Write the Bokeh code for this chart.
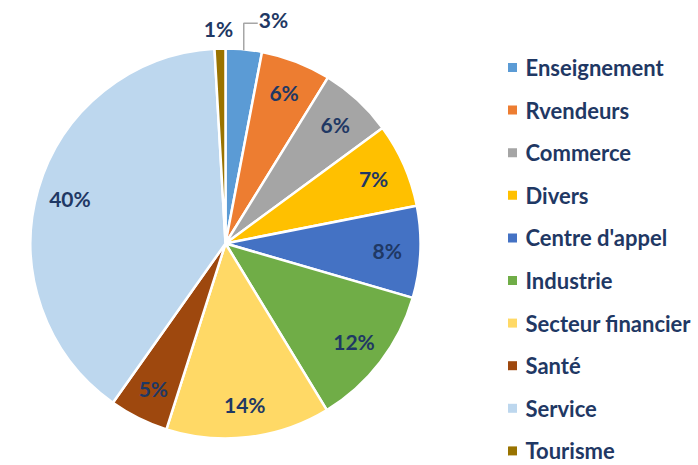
import math
from bokeh.plotting import figure
from bokeh.models import Range1d, ColumnDataSource
from bokeh.core.properties import value
from bokeh.embed import file_html
from bokeh.resources import INLINE

categories = ["Enseignement", "Rvendeurs", "Commerce", "Divers", "Centre d'appel",
              "Industrie", "Secteur financier", "Santé", "Service", "Tourisme"]
shares = [3.0, 5.8, 6.1, 7.0, 7.6, 11.8, 13.6, 4.9, 39.3, 0.9]
pct_labels = ["3%", "6%", "6%", "7%", "8%", "12%", "14%", "5%", "40%", "1%"]
colors = ["#5B9BD5", "#ED7D31", "#A5A5A5", "#FFC000", "#4472C4",
          "#70AD47", "#FFD966", "#9E480E", "#BDD7EE", "#997300"]

W, H = 698, 465
TXT = "#1F3864"
FONT = "Lato"

p = figure(width=W, height=H, x_range=Range1d(0, W), y_range=Range1d(0, H),
           output_backend="svg", toolbar_location=None, min_border=0)
p.axis.visible = False
p.grid.visible = False
p.outline_line_color = None

cx, cy, R = 225, 222, 195
total = sum(shares)
starts, ends, mids = [], [], []
cum = 0.0
for s in shares:
    a0 = math.pi / 2 - 2 * math.pi * cum / total
    cum += s
    a1 = math.pi / 2 - 2 * math.pi * cum / total
    starts.append(a0)
    ends.append(a1)
    mids.append((a0 + a1) / 2)

src = ColumnDataSource(dict(start=starts, end=ends, color=colors))
p.wedge(x=cx, y=cy, radius=R, start_angle="start", end_angle="end",
        direction="clock", fill_color="color", line_color="white",
        line_width=2.5, source=src)

# data labels
lx, ly = [], []
outside = {0: (48, 224), 9: (-7, 215)}  # (dx, dy) from centre for small slices
for i, m in enumerate(mids):
    if i in outside:
        dx, dy = outside[i]
        lx.append(cx + dx)
        ly.append(cy + dy)
    else:
        r = 0.83 * R
        lx.append(cx + r * math.cos(m))
        ly.append(cy + r * math.sin(m))
p.text(x=lx, y=ly, text=pct_labels, text_align="center", text_baseline="middle",
       text_font=value(FONT), text_font_style="bold", text_font_size="21px",
       text_color=TXT)

# leader line for the first slice
ex = cx + (R - 1) * math.cos(mids[0])
ey = cy + (R - 1) * math.sin(mids[0])
p.line(x=[ex, ex, ex + 14], y=[ey, ey + 27, ey + 27], line_color="#A6A6A6", line_width=1.5)

# legend
leg_x = 512
leg_top = 398
step = 42.6
ys = [leg_top - i * step for i in range(len(categories))]
p.scatter(x=[leg_x] * len(categories), y=ys, marker="square", size=9,
          fill_color=colors, line_color=None)
p.text(x=[leg_x + 13] * len(categories), y=ys, text=categories, text_align="left",
       text_baseline="middle", text_font=value(FONT), text_font_style="bold",
       text_font_size="22px", text_color=TXT)

open("out.html", "w").write(file_html(p, INLINE))
